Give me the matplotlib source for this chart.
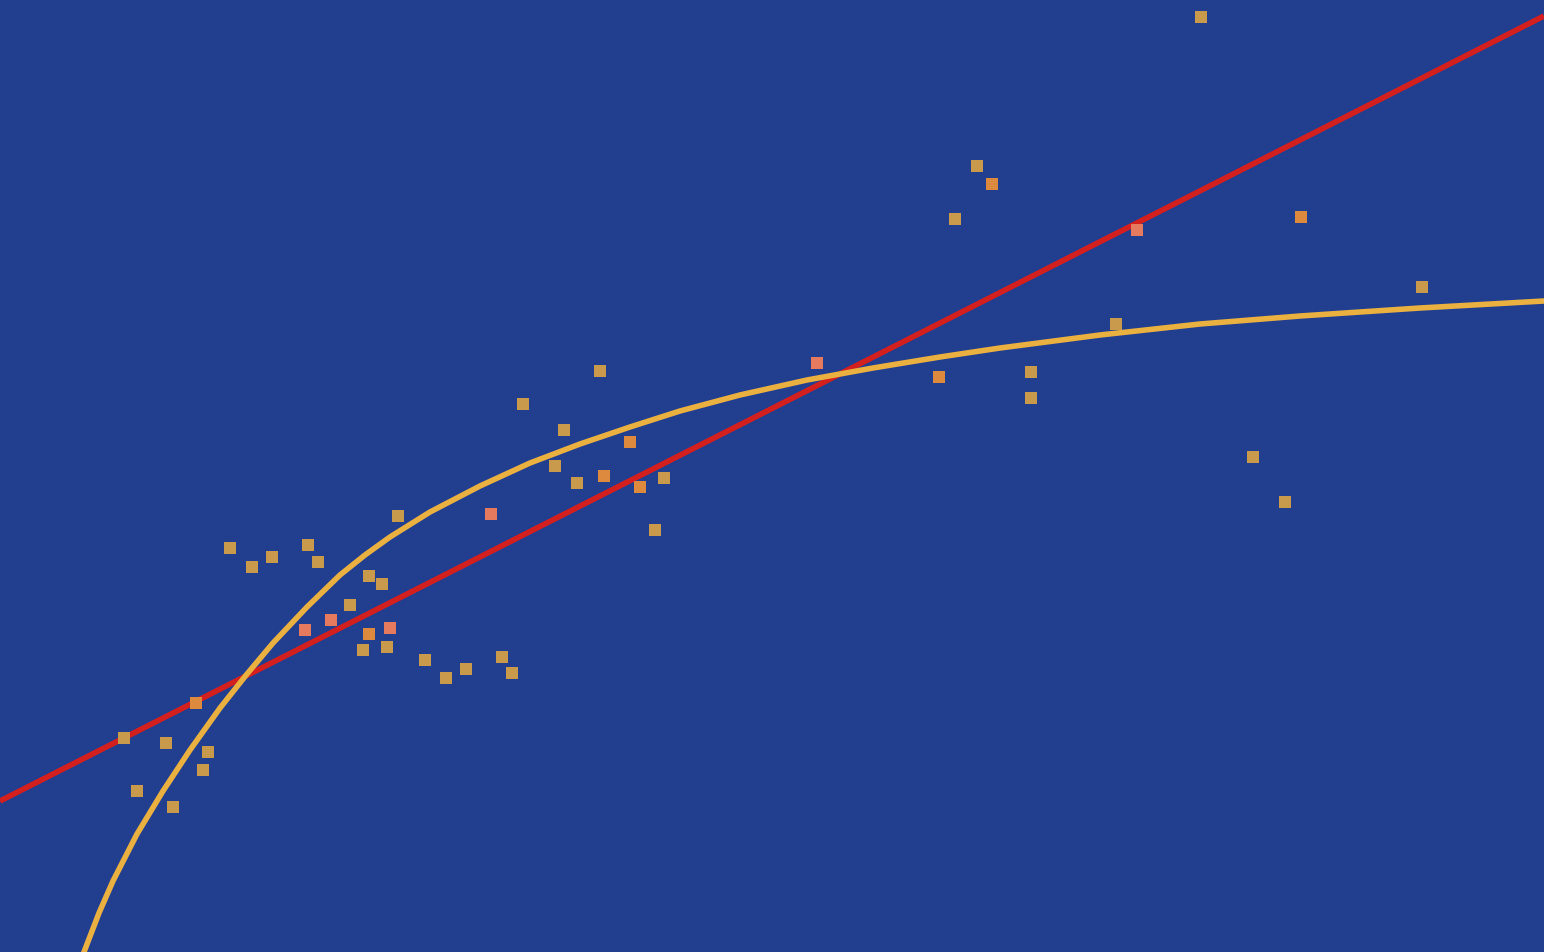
import numpy as np
import matplotlib
matplotlib.use('Agg')
import matplotlib.pyplot as plt

# scatter samples, grouped by marker tone (x, y in plot units, y grows downward)
gold_x = [1201, 977, 955, 1116, 1031, 1031, 1422, 1253, 1285,
          600, 523, 564, 555, 577, 664, 655, 398,
          230, 252, 272, 308, 318, 369, 382, 350, 363, 387,
          425, 446, 466, 502, 512, 124, 166, 208, 203, 137, 173]
gold_y = [18, 167, 220, 325, 373, 399, 288, 458, 503,
          372, 405, 431, 467, 484, 479, 531, 517,
          549, 568, 558, 546, 563, 577, 585, 606, 651, 648,
          661, 679, 670, 658, 674, 739, 744, 753, 771, 792, 808]

orange_x = [992, 1301, 939, 630, 604, 640, 369, 196]
orange_y = [185, 218, 378, 443, 477, 488, 635, 704]

salmon_x = [1137, 817, 491, 331, 305, 390]
salmon_y = [231, 364, 515, 621, 631, 629]

# straight trend line end points
line_x = [0, 1544]
line_y = [802, 17]

# saturating trend curve, traced points
curve_x = [84, 99, 113, 137, 163, 190, 220, 247, 273, 307, 340, 365, 390,
           430, 480, 530, 580, 630, 680, 740, 807, 873, 940, 1000, 1100,
           1200, 1300, 1420, 1544]
curve_y = [953, 914, 882, 835, 792, 751, 709, 675, 644, 608, 576, 556, 538,
           513, 487, 464, 445, 428, 412, 396, 381, 369, 358, 349, 336,
           325, 317, 309, 302]

bg = '#223e8f'

fig = plt.figure(figsize=(15.44, 9.53), dpi=100)
fig.patch.set_facecolor(bg)
ax = fig.add_axes([0, 0, 1, 1])
ax.set_facecolor(bg)

ax.plot(line_x, line_y, color='#d41f1f', lw=4.0, solid_capstyle='butt', zorder=2)
ax.plot(curve_x, curve_y, color='#eab040', lw=4.0, solid_joinstyle='round', zorder=3)

ax.scatter(gold_x, gold_y, marker='s', s=80, color='#c99a4c', linewidths=0, zorder=4)
ax.scatter(orange_x, orange_y, marker='s', s=80, color='#dd8a3e', linewidths=0, zorder=4)
ax.scatter(salmon_x, salmon_y, marker='s', s=80, color='#e57a5e', linewidths=0, zorder=4)

ax.set_xlim(0, 1544)
ax.set_ylim(953, 0)
ax.axis('off')

plt.savefig('out.png', dpi=100, facecolor=bg)
